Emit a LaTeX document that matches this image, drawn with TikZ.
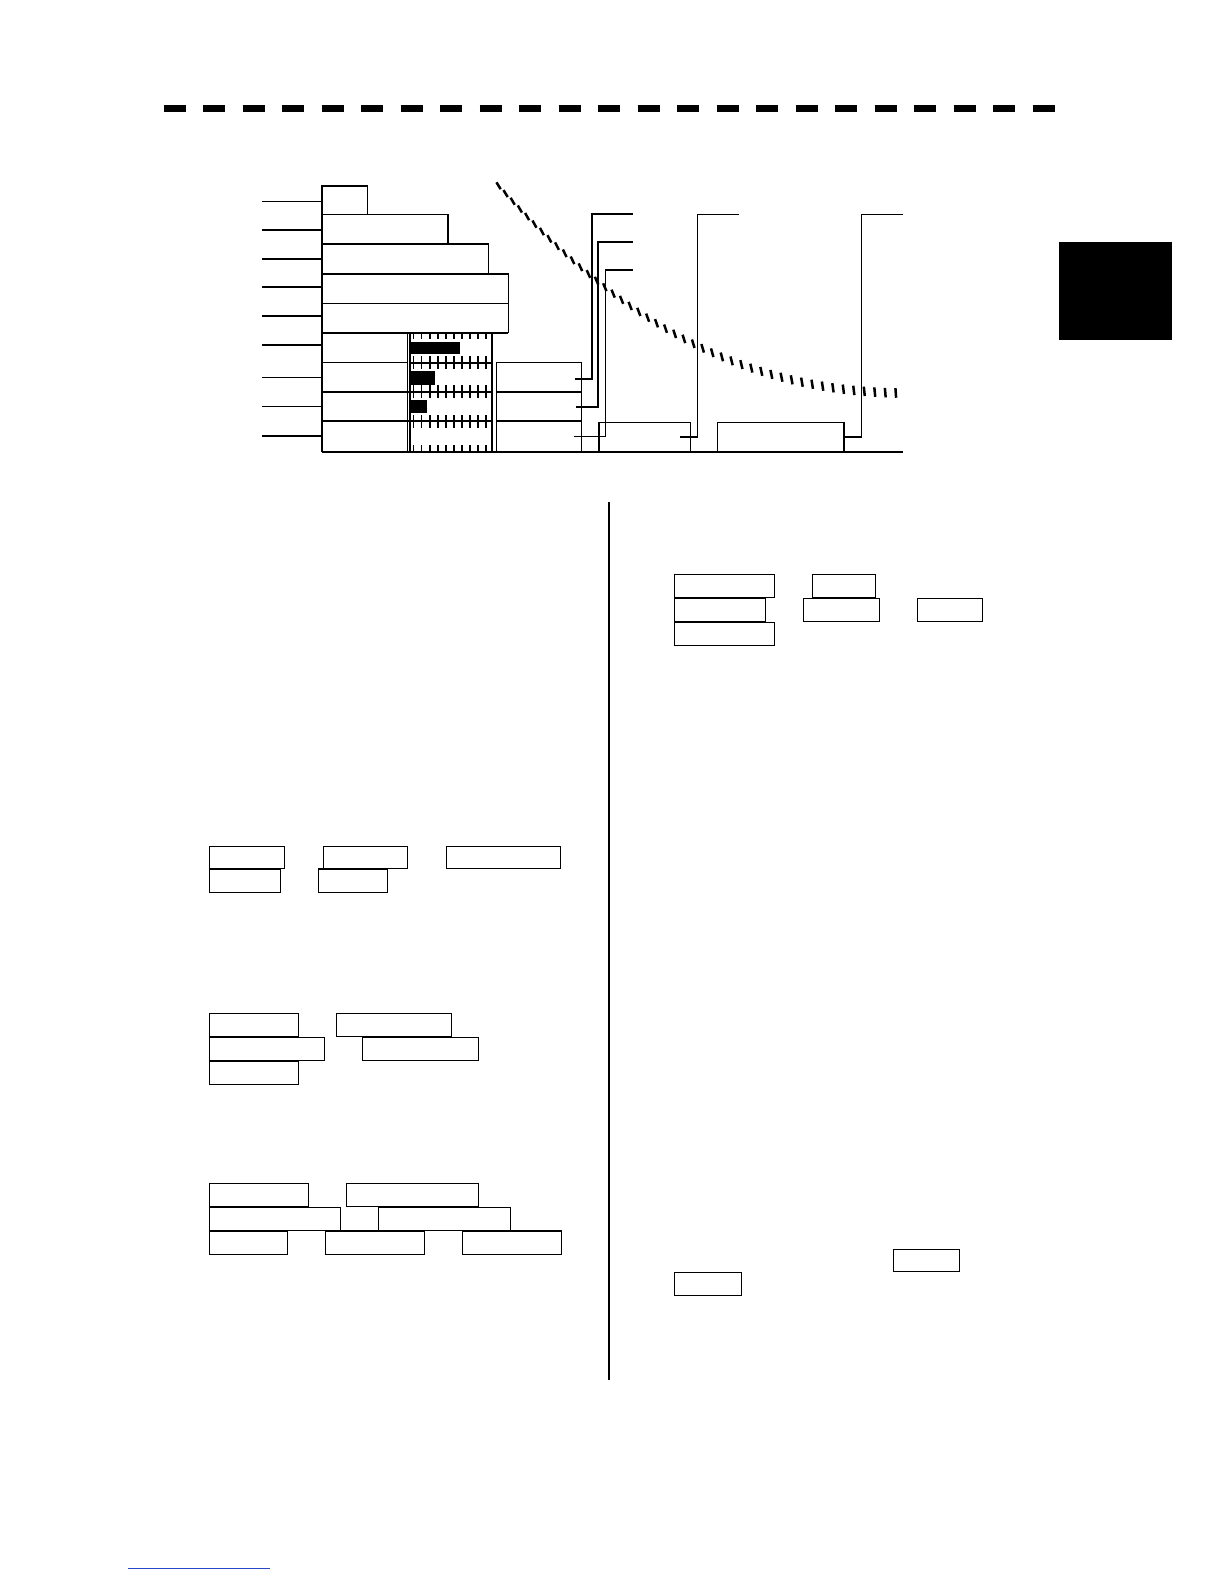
\documentclass[tikz,border=0pt]{standalone}
\usetikzlibrary{decorations.markings,calc}
\newcommand\bx[6][]{\node[box,#1,minimum width={#5-#3},minimum height={#6-#4}] (#2) at ({(#3+#5)/2},{(#4+#6)/2}) {};}
\begin{document}
\begin{tikzpicture}[x=1pt,y=-1pt,
  box/.style={draw,line width=1.5pt,inner sep=0pt,outer sep=0pt},
  thinbox/.style={line width=1pt},
  scalest/.style={line width=1.8pt},
  lbox/.style={line width=1.3pt},
  leader/.style={line width=1.3pt},
  leadthick/.style={line width=2.2pt},
  sep/.style={line width=2.4pt},
  tick/.style={line width=1.8pt},
  hatch/.style={line width=2.5pt}]
\useasboundingbox (0,0) rectangle (1224,1584);

% top dashed rule
\coordinate (d0) at (163.6,108.5);
\coordinate (d1) at (1056,108.5);
\draw[line width=6.5pt, dash pattern=on 22.3pt off 17.2pt] (d0) -- (d1);

% black tab
\node[fill=black,inner sep=0pt,minimum width=113pt,minimum height=98pt] (tab) at (1115.5,291) {};

% ---------- top diagram ----------
\bx{r1}{322}{186}{367.7}{214.3}
\bx{r2}{322}{214.3}{448}{244}
\bx{r3}{322}{244}{488.7}{274}
\bx{r4}{322}{274}{508.3}{303.3}
\bx{r5}{322}{303.3}{508.3}{332.7}
\bx{r6}{322}{332.7}{407.7}{362.7}
\bx{r7}{322}{362.7}{407.7}{391.7}
\bx{r8}{322}{391.7}{407.7}{421}
\bx{r9}{322}{421}{407.7}{451.5}

\bx[scalest]{s6}{410}{332.7}{492}{362.7}
\bx[scalest]{s7}{410}{362.7}{492}{391.7}
\bx[scalest]{s8}{410}{391.7}{492}{421}
\bx[scalest]{s9}{410}{421}{492}{451.5}

\bx[thinbox]{c7}{496}{362.7}{581.7}{391.7}
\bx[thinbox]{c8}{496}{391.7}{581.7}{421}
\bx[thinbox]{c9}{496}{421}{581.7}{451.5}

\bx{b4}{599}{422.7}{690.3}{451.5}
\bx{b5}{717.7}{422.7}{844}{451.5}

% thick separators in lower rows
\draw[sep] (r7.south west) -- (s7.south east);
\draw[sep] (r8.south west) -- (s8.south east);
\draw[sep] (s6.south west) -- (s6.south east);
\draw[sep] (r5.south west) -- (r5.south east);
\draw[sep] (c7.south west) -- (c7.south east);
\draw[sep] (c8.south west) -- (c8.south east);

% ticks in scale cells
\foreach \s in {s6,s7,s8,s9}{
  \foreach \k in {0,...,9}{
    \draw[tick] ($(\s.north west)+(3.5+8.05*\k,0)$) -- ++(0,6.5);
    \draw[tick] ($(\s.south west)+(3.5+8.05*\k,0)$) -- ++(0,-6.5);
  }
}
% level bars
\fill (410,341.7) rectangle (460,354);
\fill (410,371) rectangle (435,385);
\fill (410,400) rectangle (426.7,413);

% axis and baseline
\coordinate (axtop) at (322,185);
\coordinate (axo) at (322,452);
\coordinate (axend) at (903.3,452);
\draw[line width=2.2pt] (axtop) -- (axo);
\draw[line width=1.6pt] (axo) -- (axend);

% left leaders
\foreach \y/\r in {201.7/r1,230/r2,259/r3,287/r4,316/r5,345/r6,377.7/r7,406.7/r8,436/r9}{
  \coordinate (l\r) at (262,\y);
  \draw[leader] (l\r) -- (l\r -| \r.west);
}

% right leaders
\coordinate (e7) at (632.7,214.3);
\coordinate (e8) at (632.7,241.7);
\coordinate (e9) at (632.7,270);
\coordinate (e4) at (739.3,214.3);
\coordinate (e5) at (903.3,214.3);
\draw[leadthick] ([xshift=-7pt,yshift=-2pt]c7.east) -| ([xshift=-41pt]e7) -- (e7);
\draw[leadthick] ([xshift=-6pt,yshift=-0.5pt]c8.east) -| ([xshift=-34.4pt]e8) -- (e8);
\draw[leader] ([xshift=-8pt,yshift=0pt]c9.east) -| ([xshift=-27pt]e9) -- (e9);
\draw[leader] ([xshift=-10pt]b4.east) -| ([xshift=-42pt]e4) -- (e4);
\draw[leader] (b5.east) -| ([xshift=-41.6pt]e5) -- (e5);

% hatched curve
\path[decoration={markings,
   mark=between positions 0.005 and 1 step 10.5pt with {%
     \pgfmathsetmacro\fr{\pgfkeysvalueof{/pgf/decoration/mark info/distance from start}/\pgfdecoratedpathlength}%
     \pgfmathsetmacro\ang{-58-28*\fr}%
     \pgfmathsetmacro\len{4+0.8*\fr}%
     \pgftransformresetnontranslations
     \draw[hatch] ({\ang+180}:{\len pt}) -- ({\ang}:{\len pt});}},
   postaction={decorate}]
  (497,184) .. controls (600,300) and (720,390) .. (898,393);

% ---------- left column text boxes ----------
\bx[lbox]{a1}{209.3}{846.3}{284.7}{868.7}
\bx[lbox]{a2}{323.3}{846.3}{407.7}{868.7}
\bx[lbox]{a3}{446.3}{846.3}{560.7}{868.7}
\bx[lbox]{b1}{209.3}{869}{280.7}{892.3}
\bx[lbox]{b2}{318.3}{869}{387.7}{892.3}

\bx[lbox]{k1}{209.3}{1013.3}{298.7}{1036.7}
\bx[lbox]{k2}{336.3}{1013.3}{451.7}{1036.7}
\bx[lbox]{k3}{209.3}{1037.3}{324.7}{1060.7}
\bx[lbox]{k4}{362.3}{1037.3}{478.7}{1060.7}
\bx[lbox]{k5}{209.3}{1061.3}{298.7}{1084.7}

\bx[lbox]{m1}{209.3}{1183.3}{308.7}{1206.7}
\bx[lbox]{m2}{346.3}{1183.3}{478.7}{1206.7}
\bx[lbox]{m3}{209.3}{1207.3}{340.7}{1230.3}
\bx[lbox]{m4}{378.3}{1207.3}{510.7}{1230.3}
\bx[lbox]{n1}{209.3}{1231}{287.7}{1254.5}
\bx[lbox]{n2}{325.3}{1231}{424.3}{1254.5}
\bx[lbox]{n3}{462.3}{1231}{561.7}{1254.5}

% column divider
\coordinate (v0) at (609,502);
\coordinate (v1) at (609,1380);
\draw[line width=1.5pt] (v0) -- (v1);

% ---------- right column text boxes ----------
\bx[lbox]{f1}{674.3}{574.3}{774.7}{597.3}
\bx[lbox]{f2}{812.3}{574.3}{875.7}{597.7}
\bx[lbox]{g1}{674.3}{598.3}{765.7}{621.7}
\bx[lbox]{g2}{803.3}{598.3}{879.7}{621.7}
\bx[lbox]{g3}{917.3}{598.3}{982.7}{621.7}
\bx[lbox]{h1}{674.3}{622.3}{774.7}{645.3}

\bx[lbox]{i1}{893.3}{1249.3}{959.7}{1271.7}
\bx[lbox]{i2}{674.3}{1272.3}{741.7}{1295.5}

% footer link line
\coordinate (u0) at (128,1568);
\coordinate (u1) at (270,1568);
\draw[line width=1pt, color={rgb,255:red,40;green,70;blue,200}] (u0) -- (u1);
\end{tikzpicture}
\end{document}
